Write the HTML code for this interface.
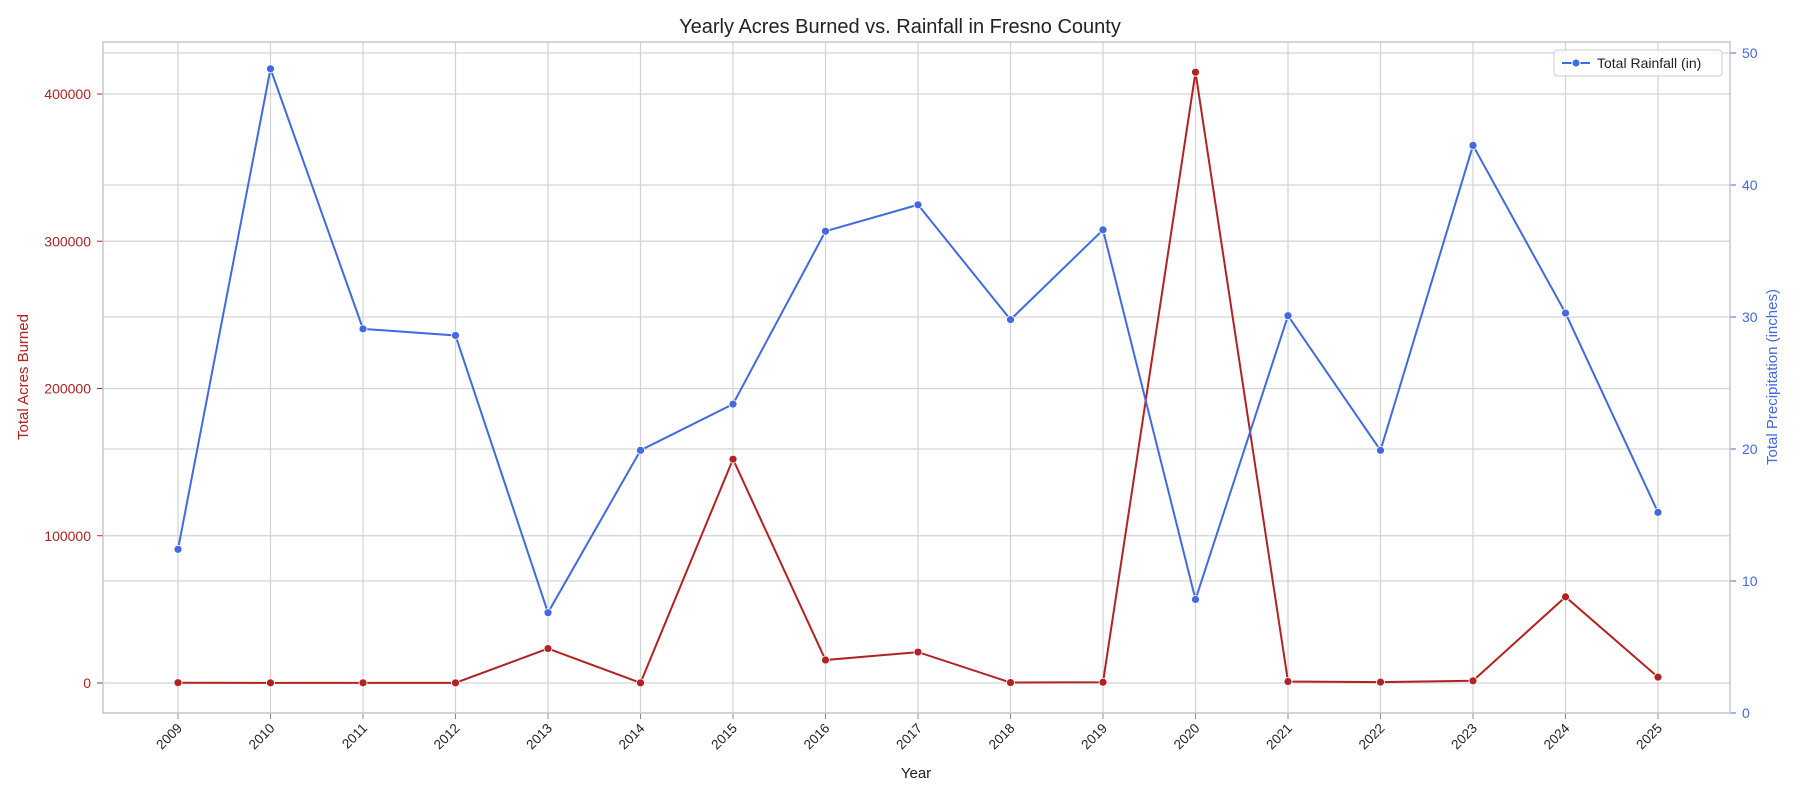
<!DOCTYPE html>
<html><head><meta charset="utf-8"><style>
body{margin:0;background:#fff;}
svg{display:block;font-family:"Liberation Sans",sans-serif;}
</style></head><body>
<svg id="chart" width="1800" height="800"></svg>
<script>
const years=[2009,2010,2011,2012,2013,2014,2015,2016,2017,2018,2019,2020,2021,2022,2023,2024,2025];
const acres=[200,100,100,100,23400,100,152000,15600,21000,300,500,414800,1000,600,1500,58500,4000];
const rain=[12.4,48.8,29.1,28.6,7.6,19.9,23.4,36.5,38.5,29.8,36.6,8.6,30.1,19.9,43.0,30.3,15.2];
const leftTicks=[0,100000,200000,300000,400000];
const rightTicks=[0,10,20,30,40,50];
const L=103,R=1730,T=42,B=713;
const svg=document.getElementById('chart');
const NS='http://www.w3.org/2000/svg';
function mk(t,a,p){const e=document.createElementNS(NS,t);for(const k in a)e.setAttribute(k,a[k]);(p||svg).appendChild(e);return e;}
const x=y=>178+(y-2009)*(1658-178)/16;
const yl=v=>683-v*(683-94)/400000;
const yr=v=>713-v*(713-53)/50;
years.forEach(yv=>{const g=mk('line',{x1:x(yv),x2:x(yv),y1:T,y2:B,stroke:'#d3d3d3','stroke-width':1.2});
});
leftTicks.forEach(v=>{const g=mk('line',{x1:L,x2:R,y1:yl(v),y2:yl(v),stroke:'#d3d3d3','stroke-width':1.2});

const t=mk('text',{x:L-12,y:yl(v)+5,'text-anchor':'end','font-size':14,fill:'#b22222'});t.textContent=v;

mk('line',{x1:L-6,x2:L,y1:yl(v),y2:yl(v),stroke:'#b22222'});});
rightTicks.forEach(v=>{const g=mk('line',{x1:L,x2:R,y1:yr(v),y2:yr(v),stroke:'#d3d3d3','stroke-width':1.2});

const t=mk('text',{x:R+12,y:yr(v)+5,'font-size':14,fill:'#4169e1'});t.textContent=v;

mk('line',{x1:R,x2:R+6,y1:yr(v),y2:yr(v),stroke:'#4169e1'});});
years.forEach(yv=>{const t=mk('text',{x:x(yv)+5,y:B+16,'text-anchor':'end','font-size':13.5,fill:'#222',transform:`rotate(-45 ${x(yv)+5} ${B+16})`});t.textContent=yv;

mk('line',{x1:x(yv),x2:x(yv),y1:B,y2:B+6,stroke:'#888'});});
mk('rect',{x:L,y:T,width:R-L,height:B-T,fill:'none',stroke:'#c8c8c8','stroke-width':1.5});
const ap=mk('polyline',{points:years.map((yv,i)=>x(yv)+','+yl(acres[i])).join(' '),fill:'none',stroke:'#b22222','stroke-width':2});

years.forEach((yv,i)=>{const c=mk('circle',{cx:x(yv),cy:yl(acres[i]),r:4,fill:'#b22222',stroke:'#fff','stroke-width':0.8});
});
const rp=mk('polyline',{points:years.map((yv,i)=>x(yv)+','+yr(rain[i])).join(' '),fill:'none',stroke:'#4169e1','stroke-width':2});

years.forEach((yv,i)=>{const c=mk('circle',{cx:x(yv),cy:yr(rain[i]),r:4,fill:'#4169e1',stroke:'#fff','stroke-width':0.8});
});
</script>
<svg style="position:absolute;left:0;top:0" width="1800" height="800">
<text x="900" y="33" text-anchor="middle" font-size="20" fill="#222">Yearly Acres Burned vs. Rainfall in Fresno County</text>
<text x="916" y="778" text-anchor="middle" font-size="15" fill="#222">Year</text>
<text x="28" y="377" text-anchor="middle" font-size="15" fill="#b22222" transform="rotate(-90 28 377)">Total Acres Burned</text>
<text x="1777" y="377" text-anchor="middle" font-size="15" fill="#4169e1" transform="rotate(-90 1777 377)">Total Precipitation (inches)</text>
<g>
<rect x="1554" y="50" width="168" height="26" rx="3" fill="#fff" fill-opacity="0.8" stroke="#ccc"/>
<line x1="1562" y1="63" x2="1590" y2="63" stroke="#4169e1" stroke-width="2"/>
<circle cx="1576" cy="63" r="4" fill="#4169e1" stroke="#fff"/>
<text x="1597" y="68" font-size="14" fill="#222">Total Rainfall (in)</text>
</g>
</svg>
</body></html>
